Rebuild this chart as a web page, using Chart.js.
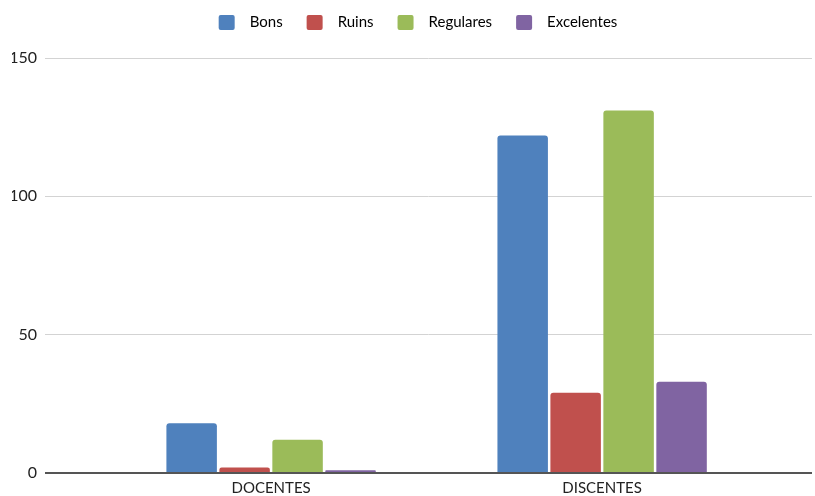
<!DOCTYPE html>
<html>
<head>
<meta charset="utf-8">
<script src="https://cdn.jsdelivr.net/npm/chart.js@4/dist/chart.umd.min.js"></script>
<style>
  html, body { margin: 0; padding: 0; background: #fff; }
  #wrap { width: 815px; height: 496px; }
</style>
</head>
<body>
<div id="wrap"><canvas id="c"></canvas></div>
<script>
// Avaliação por grupo
const categories = ['DOCENTES', 'DISCENTES'];
const bons       = [18, 122];
const ruins      = [2, 29];
const regulares  = [12, 131];
const excelentes = [1, 33];
const yTicks     = [0, 50, 100, 150];

const seriesNames  = ['Bons', 'Ruins', 'Regulares', 'Excelentes'];
const seriesValues = [bons, ruins, regulares, excelentes];
const seriesColors = ['#4F81BD', '#C0504D', '#9BBB59', '#8064A2'];

const FONT = 'Lato, "Open Sans", sans-serif';

// legend: more room below it, and a small nudge to the right
const legendPlacement = {
  id: 'legendPlacement',
  beforeInit(chart) {
    const legend = chart.legend;
    const fit = legend.fit;
    legend.fit = function () {
      fit.call(this);
      this.height += 18;
    };
    const draw = legend.draw;
    legend.draw = function () {
      const ctx = this.ctx;
      ctx.save();
      ctx.translate(6, 0);
      draw.call(this);
      ctx.restore();
    };
  }
};

new Chart(document.getElementById('c'), {
  type: 'bar',
  data: {
    datasets: seriesNames.map((name, s) => ({
      label: name,
      data: seriesValues[s].map((v, i) => ({ x: i, y: v })),
      backgroundColor: seriesColors[s],
      borderRadius: 3,
      borderSkipped: 'start',
      categoryPercentage: 0.64,
      barPercentage: 0.953
    }))
  },
  options: {
    responsive: true,
    maintainAspectRatio: false,
    animation: false,
    layout: { padding: { top: -9, left: 12, right: 3, bottom: -7 } },
    plugins: {
      tooltip: { enabled: false },
      legend: {
        position: 'top',
        labels: {
          font: { family: FONT, size: 15 },
          color: '#222',
          boxWidth: 16,
          boxHeight: 15,
          padding: 24,
          generateLabels(chart) {
            return chart.data.datasets.map((ds, i) => ({
              text: '\u2002' + ds.label,
              fillStyle: ds.backgroundColor,
              strokeStyle: ds.backgroundColor,
              lineWidth: 0,
              borderRadius: 2,
              hidden: false,
              datasetIndex: i
            }));
          }
        }
      }
    },
    scales: {
      x: {
        type: 'linear',
        offset: false,
        min: -0.683,
        max: 1.634,
        grid: { display: false, drawTicks: false },
        border: { display: false },
        afterBuildTicks(scale) {
          scale.ticks = categories.map((_, i) => ({ value: i }));
        },
        ticks: {
          padding: 6,
          color: '#222',
          font: { family: FONT, size: 15, lineHeight: 1.2 },
          maxRotation: 0,
          autoSkip: false,
          callback: (v) => categories[v]
        }
      },
      y: {
        min: yTicks[0],
        max: yTicks[yTicks.length - 1],
        afterFit(scale) { scale.width = 33; },
        afterBuildTicks(scale) {
          scale.ticks = yTicks.map(v => ({ value: v }));
        },
        grid: {
          drawTicks: false,
          color: (ctx) => ctx.tick && ctx.tick.value === 0 ? '#555' : '#d3d3d3',
          lineWidth: (ctx) => ctx.tick && ctx.tick.value === 0 ? 2 : 1
        },
        border: { display: false },
        ticks: {
          padding: 8,
          color: '#222',
          font: { family: FONT, size: 16 }
        }
      }
    }
  },
  plugins: [legendPlacement]
});
</script>
</body>
</html>
